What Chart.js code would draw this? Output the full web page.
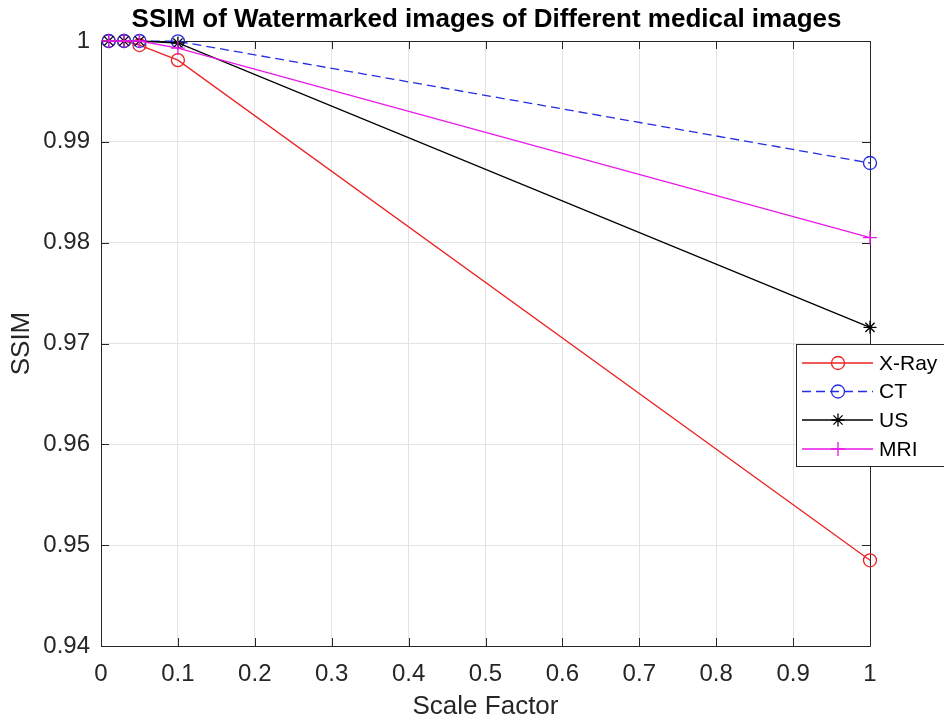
<!DOCTYPE html>
<html><head><meta charset="utf-8">
<script src="https://cdn.jsdelivr.net/npm/chart.js@4.4.0/dist/chart.umd.min.js"></script>
<style>html,body{margin:0;padding:0;background:#fff}#wrap{width:944px;height:722px;position:relative}</style>
</head><body><div id="wrap"><canvas id="c" width="944" height="722"></canvas></div>
<script>
// ---- data ----
const scaleFactors = [0.01, 0.03, 0.05, 0.1, 1];
const xray = [1, 1, 0.9996, 0.9981, 0.9485];
const ct   = [1, 1, 1, 0.99997, 0.9879];
const us   = [1, 1, 1, 0.9998, 0.9716];
const mri  = [1, 1, 1, 0.9993, 0.9805];
const xTicks = [0, 0.1, 0.2, 0.3, 0.4, 0.5, 0.6, 0.7, 0.8, 0.9, 1];
const yTicks = [0.94, 0.95, 0.96, 0.97, 0.98, 0.99, 1];
const seriesNames = ['X-Ray', 'CT', 'US', 'MRI'];
const titleText = 'SSIM of Watermarked images of Different medical images';
const xLabel = 'Scale Factor';
const yLabel = 'SSIM';

const FONT = '"Liberation Sans", Arial, Helvetica, sans-serif';
const AX = '#262626';
const RED = 'rgb(235,35,35)', BLUE = 'rgb(35,45,225)', BLACK = '#000', MAG = 'rgb(232,25,232)';

function pts(vals){ return scaleFactors.map((x,i)=>({x:x, y:vals[i]})); }
function fmt(v){ return String(Number(v.toFixed(4))); }

const datasets = [
  {label:seriesNames[0], data:pts(xray), borderColor:RED, pointBorderColor:RED, pointStyle:'circle', pointRadius:6.5, order:3},
  {label:seriesNames[1], data:pts(ct), borderColor:BLUE, pointBorderColor:BLUE, pointStyle:'circle', pointRadius:6.5, borderDash:[9,5], order:2},
  {label:seriesNames[2], data:pts(us), borderColor:BLACK, pointBorderColor:BLACK, pointStyle:'star', pointRadius:6.5, order:1},
  {label:seriesNames[3], data:pts(mri), borderColor:MAG, pointBorderColor:MAG, pointStyle:'cross', pointRadius:7, order:0}
].map(d=>Object.assign({borderWidth:1.3, pointBorderWidth:1.3, pointBackgroundColor:'rgba(0,0,0,0)', tension:0, fill:false, clip:false, pointHoverRadius:d.pointRadius}, d));

function marker(ctx, style, r, x, y){
  ctx.beginPath();
  if (style === 'circle') { ctx.arc(x, y, r, 0, Math.PI*2); }
  else {
    ctx.moveTo(x, y-r); ctx.lineTo(x, y+r);
    ctx.moveTo(x-r, y); ctx.lineTo(x+r, y);
    if (style === 'star') {
      const k = r*Math.SQRT1_2;
      ctx.moveTo(x-k, y-k); ctx.lineTo(x+k, y+k);
      ctx.moveTo(x-k, y+k); ctx.lineTo(x+k, y-k);
    }
  }
  ctx.stroke();
}

const decor = {
  id:'decor',
  beforeDatasetsDraw(chart){
    const {ctx, chartArea:a, scales} = chart;
    ctx.save();
    ctx.strokeStyle = AX; ctx.lineWidth = 1;
    ctx.beginPath();
    ctx.rect(Math.round(a.left)+0.5, Math.round(a.top)+0.5, Math.round(a.right-a.left), Math.round(a.bottom-a.top));
    ctx.stroke();
    const L = 8;
    ctx.beginPath();
    xTicks.forEach(v=>{
      const x = Math.round(scales.x.getPixelForValue(v))+0.5;
      ctx.moveTo(x, a.bottom); ctx.lineTo(x, a.bottom-L);
      ctx.moveTo(x, a.top); ctx.lineTo(x, a.top+L);
    });
    yTicks.forEach(v=>{
      const y = Math.round(scales.y.getPixelForValue(v))+0.5;
      ctx.moveTo(a.left, y); ctx.lineTo(a.left+L, y);
      ctx.moveTo(a.right, y); ctx.lineTo(a.right-L, y);
    });
    ctx.stroke();
    ctx.restore();
  },
  afterDraw(chart){
    const {ctx} = chart;
    const a = chart.chartArea;
    ctx.save();
    // title
    ctx.fillStyle = '#000';
    ctx.font = 'bold 26px ' + FONT;
    ctx.textAlign = 'center'; ctx.textBaseline = 'middle';
    ctx.fillText(titleText, (a.left+a.right)/2 + 1, 20);
    // legend (box runs past the right edge of the figure, as in the original)
    const bx = 796.5, by = 344.5, bw = 170, bh = 122;
    ctx.fillStyle = '#fff'; ctx.fillRect(bx, by, bw, bh);
    ctx.strokeStyle = AX; ctx.lineWidth = 1; ctx.strokeRect(bx, by, bw, bh);
    const rows = [363, 391.5, 420, 449];
    chart.data.datasets.forEach((d,i)=>{
      const y = rows[i];
      ctx.save();
      ctx.strokeStyle = d.borderColor; ctx.lineWidth = d.borderWidth;
      ctx.setLineDash(d.borderDash || []);
      ctx.beginPath(); ctx.moveTo(802, y); ctx.lineTo(873, y); ctx.stroke();
      ctx.setLineDash([]);
      ctx.strokeStyle = d.pointBorderColor; ctx.lineWidth = d.pointBorderWidth;
      marker(ctx, d.pointStyle, d.pointRadius, 838, y);
      ctx.restore();
      ctx.fillStyle = '#000';
      ctx.font = '21px ' + FONT;
      ctx.textAlign = 'left'; ctx.textBaseline = 'middle';
      ctx.fillText(d.label, 879, y+1);
    });
    ctx.restore();
  }
};

new Chart(document.getElementById('c'), {
  type:'line',
  data:{datasets},
  plugins:[decor],
  options:{
    responsive:false, animation:false, devicePixelRatio:1,
    layout:{padding:{top:41, right:74, left:0, bottom:0}},
    plugins:{legend:{display:false}, tooltip:{enabled:false}, title:{display:false}},
    scales:{
      x:{type:'linear', min:0, max:1,
        afterBuildTicks(s){ s.ticks = xTicks.map(v=>({value:v})); },
        afterFit(s){ s.height = 76; },
        grid:{color:'#e3e3e3', drawTicks:false, lineWidth:1},
        border:{display:false},
        ticks:{padding:14, color:AX, font:{family:FONT, size:24}, callback:v=>fmt(v), maxRotation:0, autoSkip:false},
        title:{display:true, text:xLabel, color:AX, font:{family:FONT, size:26}, padding:{top:0, bottom:0}}
      },
      y:{type:'linear', min:0.94, max:1,
        afterBuildTicks(s){ s.ticks = yTicks.map(v=>({value:v})); },
        afterFit(s){ s.width = 101; },
        grid:{color:'#e3e3e3', drawTicks:false, lineWidth:1},
        border:{display:false},
        ticks:{padding:11, color:AX, font:{family:FONT, size:24}, callback:v=>fmt(v), autoSkip:false},
        title:{display:true, text:yLabel, color:AX, font:{family:FONT, size:26}, padding:{top:6, bottom:0}}
      }
    }
  }
});
</script></body></html>
